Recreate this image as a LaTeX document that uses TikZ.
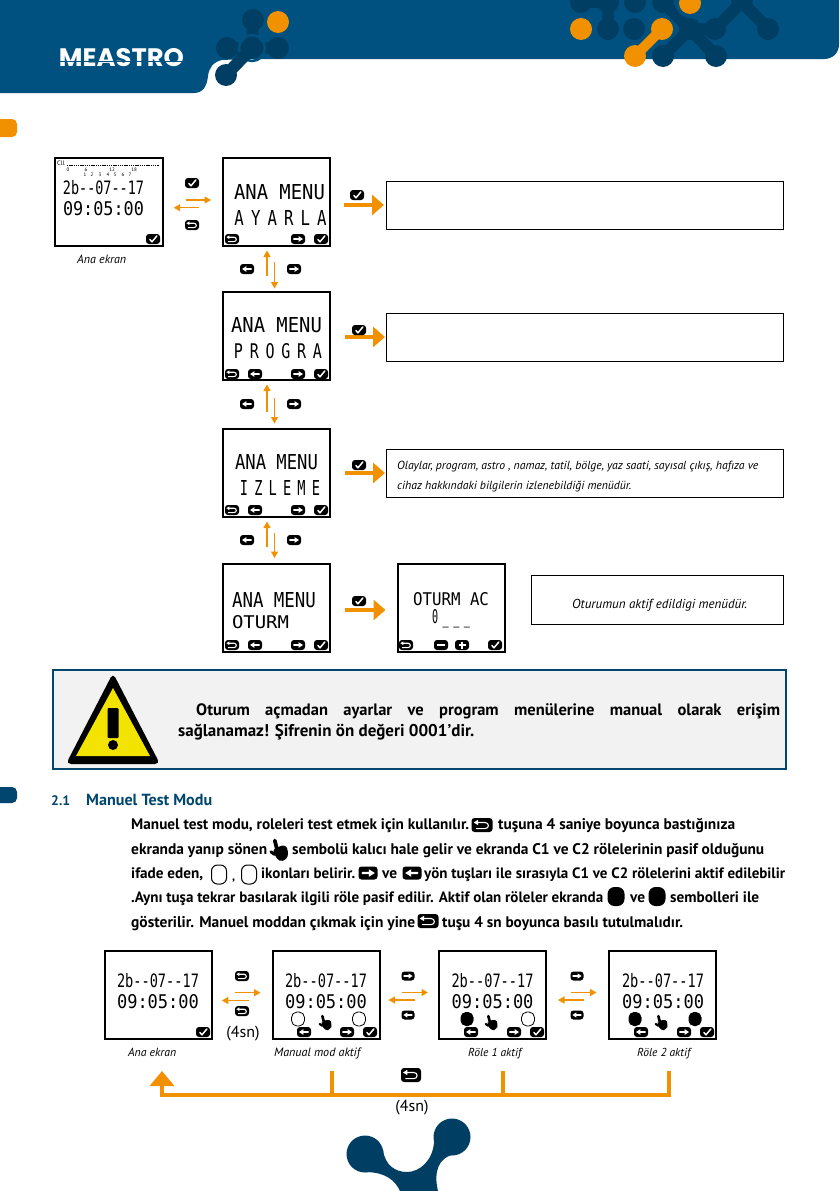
\documentclass[tikz,border=0pt]{standalone}
\usepackage{fontspec}
\usetikzlibrary{arrows.meta,calc}
\setmainfont{PT Sans}
\newfontfamily\lcdf{DejaVu Sans Mono}
\newfontfamily\lcdw[LetterSpace=45]{DejaVu Sans Mono}
\newfontfamily\logof{Poppins}
\definecolor{band}{HTML}{00517F}
\definecolor{deep}{HTML}{003F63}
\definecolor{org}{HTML}{F29100}
\definecolor{head}{HTML}{00466E}
\definecolor{warny}{HTML}{F2E400}
\newcounter{tn}
\newcommand\tx[5]{\stepcounter{tn}\node[anchor=base west,inner sep=0pt,name=t\arabic{tn},text=black] at (#2,#3) {\resizebox{#4pt}{!}{#1#5}};}
\newcommand\bd{\bfseries\fontsize{14}{14}\selectfont}
\newcommand\itc{\itshape\fontsize{11}{11}\selectfont}
\newcommand\lcd[5]{\stepcounter{tn}\node[inner sep=0pt,name=t\arabic{tn}] at (#1,#2) {\resizebox{#3pt}{#4pt}{\lcdf #5}};}
\newcommand\lcdx[5]{\stepcounter{tn}\node[inner sep=0pt,name=t\arabic{tn}] at (#1,#2) {\resizebox{#3pt}{#4pt}{\lcdw #5}};}
\newcommand\glyphcheck{\draw[white,line width=1.5pt,line cap=round,line join=round] (-3.2,0.4) -- (-1,2.8) -- (3.8,-3);}
\newcommand\glyphright{\fill[white] (-4.6,-0.9) -- (0.6,-0.9) -- (0.6,-2.9) -- (5,0) -- (0.6,2.9) -- (0.6,0.9) -- (-4.6,0.9) -- cycle;}
\newcommand\glyphleft{\fill[white] (4.6,-0.9) -- (-0.6,-0.9) -- (-0.6,-2.9) -- (-5,0) -- (-0.6,2.9) -- (-0.6,0.9) -- (4.6,0.9) -- cycle;}
\newcommand\glyphback{\draw[white,line width=1.1pt] (-3,-1.8) -- (2,-1.8) .. controls (5,-1.8) and (5,2.6) .. (2,2.6) -- (-4,2.6);\fill[white] (-2.6,-3.7) -- (-5.6,-1.8) -- (-2.6,0.1) -- cycle;}
\newcommand\glyphminus{\fill[white] (-4,-1) rectangle (4,1);}
\newcommand\glyphplus{\fill[white] (-3.5,-1) rectangle (3.5,1);\fill[white] (-1,-3.5) rectangle (1,3.5);}
\newcommand\btn[5]{\begin{scope}[shift={(#1,#2)},xscale=#3/14,yscale=#4/10]\fill[black,rounded corners=3pt] (-7,-5) rectangle (7,5);\csname glyph#5\endcsname\end{scope}}
\newcommand\hand[3]{\begin{scope}[shift={(#1,#2)},scale=#3,rotate=14]\fill[black,rounded corners=3.5pt] (-6.5,-2) -- (6.5,-3) -- (7.5,5) -- (4,12) -- (-4,12) -- (-7,3) -- cycle;\draw[black,line width=#3*3.8pt,line cap=round] (-3,-9.5) -- (-3,0);\draw[black,line width=#3*3pt,line cap=round] (-6.5,4) -- (-9.5,0.5);\end{scope}}
\newcommand\relo[2]{\draw[black,line width=0.8pt,rounded corners=5.5pt] (#1-6.5,#2-7) rectangle (#1+6.5,#2+7);}
\newcommand\relf[2]{\fill[black,rounded corners=5.5pt] (#1-6.5,#2-7) rectangle (#1+6.5,#2+7);}
\newcommand\blob[3][deep]{\fill[#1] (#2,#3) circle (11);}
\tikzset{
 screen/.style={draw=black,line width=2pt,rectangle,minimum width=107pt,minimum height=88pt,inner sep=0pt,outer sep=0pt},
 infobox/.style={draw=black,line width=0.8pt,rectangle,fill=white,inner sep=0pt,outer sep=0pt},
 thin arrow/.style={draw=org,line width=1.2pt,-{Triangle[length=6.5pt,width=7pt]}},
 big arrow/.style={draw=org,line width=3.2pt,-{Triangle[length=12pt,width=20pt]}},
 bus/.style={draw=org,line width=3.5pt},
 link/.style={draw=deep,line width=12pt,line cap=round,line join=round},
 olink/.style={draw=org,line width=10pt,line cap=round},
}
\begin{document}
\begin{tikzpicture}[x=1pt,y=-1pt]
\useasboundingbox (0,0) rectangle (839,1191);
\fill[white] (0,0) rectangle (839,1191);
% header band
\fill[band] (0,0) -- (839,0) -- (839,44) .. controls (839,53) and (833,59) .. (824,59) -- (245,59) -- (222,60) .. controls (213,62) and (209,68) .. (208,76) .. controls (207,86) and (203,93) .. (194,93) -- (0,93) -- cycle;
% left blob group
\draw[link] (253,20) -- (252,48); \draw[link] (227,48) -- (278,48);
\blob{253}{20}\blob{227}{48}\blob{278}{48}
\draw[band,line width=2.5pt] (252,48) circle (13);
\blob{252}{48}
\draw[white,line width=16pt,line cap=round] (232,69) -- (226,75);
\draw[link] (252,48) -- (226,75);
\blob{226}{75}
\blob[org]{278}{22}
% right blob group
\blob{581}{2}\blob{608}{2}\blob{635}{2}\blob{663}{2}\blob{608}{29}\blob{634}{29}
\draw[link] (581,2) -- (608,2); \draw[link] (608,2) -- (608,29);
\draw[link] (663,56) -- (690,29) -- (716,56); \draw[link] (690,29) -- (715,29) -- (742,2) -- (768,29);
\draw[link] (663,2) -- (690,29);
\blob{690}{29}\blob{663}{56}\blob{716}{56}\blob{715}{29}\blob{742}{0}\blob{768}{29}
\draw[band,line width=2.5pt] (690,3) circle (13.5);
\draw[band,line width=15pt,line cap=round] (662,29) -- (635,56);
\blob[org]{581}{29}
\draw[olink] (662,29) -- (635,56);
\blob[org]{662}{29}\blob[org]{635}{56}\blob[org]{690}{3}
% logo
\node[inner sep=0pt,text=white,name=logo] at (121.5,58) {\resizebox{125pt}{18pt}{\logof\bfseries MEASTRO}};
\fill[band] (59,61) rectangle (184,61.9);
% tabs
\fill[org,rounded corners=5pt] (-10,119) rectangle (17,137);
\fill[head,rounded corners=5pt] (-10,787) rectangle (17,803);
% screens
\node[screen,minimum width=108pt] (s1) at (108.7,201.5) {};
\node[screen] (s2) at (276.5,201.5) {};
\node[screen] (s3) at (276.5,335.5) {};
\node[screen] (s4) at (276.5,472.5) {};
\node[screen] (s5) at (276.5,608) {};
\node[screen] (s6) at (451,608) {};
\node[screen] (s7) at (158.3,994.5) {};
\node[screen] (s8) at (326,994.5) {};
\node[screen] (s9) at (492.5,994.5) {};
\node[screen] (s10) at (662.5,994.5) {};
% info boxes
\node[infobox,minimum width=397pt,minimum height=48pt] (box1) at (584.5,205) {};
\node[infobox,minimum width=397pt,minimum height=48pt] (box2) at (584.5,337) {};
\node[infobox,minimum width=397pt,minimum height=48pt] (box3) at (584.5,473) {};
\node[infobox,minimum width=252pt,minimum height=49pt] (box4) at (657,599.5) {};
% screen 1
\stepcounter{tn}\node[inner sep=0pt,name=t\arabic{tn}] at (61,163) {\fontsize{6.5}{6.5}\selectfont Cll};
\draw[black,line width=0.5pt,dash pattern=on 1.4pt off 0.8pt] (67,165.5) -- (159,165.5);
\foreach \px/\lab in {68/0,86/6,112/12,134/18}{\stepcounter{tn}\node[inner sep=0pt,name=t\arabic{tn}] at (\px,170) {\fontsize{5}{5}\selectfont\lab};}
\foreach \px/\lab in {85/1,92/2,100/3,108/4,115/5,123/6,130/7}{\stepcounter{tn}\node[inner sep=0pt,name=t\arabic{tn}] at (\px,175) {\fontsize{5}{5}\selectfont\lab};}
\lcd{103.5}{188}{81}{14}{2b--07--17}
\lcd{103.5}{209}{81}{14}{09:05:00}
\btn{153}{239}{14}{10}{check}
% menu screens
\lcd{279.5}{192}{91}{15}{ANA MENU}
\lcdx{280.5}{218}{92}{15}{AYARLA}
\btn{232}{239}{14}{10}{back}\btn{298}{239}{14}{10}{right}\btn{321}{239}{14}{10}{check}
\lcd{276.5}{325}{91}{15}{ANA MENU}
\lcdx{278}{351}{88}{15}{PROGRA}
\btn{232}{374}{14}{10}{back}\btn{255}{374}{14}{10}{left}\btn{298}{374}{14}{10}{right}\btn{321}{374}{14}{10}{check}
\lcd{276.5}{462}{83}{15}{ANA MENU}
\lcdx{280}{488}{80}{15}{IZLEME}
\btn{232}{510}{14}{10}{back}\btn{255}{510}{14}{10}{left}\btn{298}{510}{14}{10}{right}\btn{321}{510}{14}{10}{check}
\lcd{274}{600}{84}{15}{ANA MENU}
\lcd{260.5}{622}{57}{13}{OTURM}
\btn{232}{645}{14}{10}{back}\btn{255}{645}{14}{10}{left}\btn{298}{645}{14}{10}{right}\btn{321}{645}{14}{10}{check}
\lcd{451}{599}{76}{13}{OTURM AC}
\lcdx{451}{619}{38}{14}{0\_\_\_}
\btn{406}{645}{14}{10}{back}\btn{441}{645}{14}{10}{minus}\btn{462}{645}{14}{10}{plus}\btn{495}{645}{14}{10}{check}
% bottom screens
\foreach \cx in {158,326,492.5,663}{\lcd{\cx}{981}{82}{14}{2b--07--17}\lcd{\cx}{1002}{82}{14}{09:05:00}}
\btn{203}{1032}{14}{10}{check}
\btn{304}{1032}{14}{10}{left}\btn{347}{1032}{14}{10}{right}\btn{370}{1032}{14}{10}{check}
\relo{298}{1019}\hand{326}{1022}{0.7}\relo{359}{1019}
\btn{471}{1032}{14}{10}{left}\btn{514}{1032}{14}{10}{right}\btn{537}{1032}{14}{10}{check}
\relf{467}{1019}\hand{492}{1022}{0.7}\relo{528}{1019}
\btn{641}{1032}{14}{10}{left}\btn{684}{1032}{14}{10}{right}\btn{707}{1032}{14}{10}{check}
\relf{635}{1019}\hand{662}{1022}{0.7}\relf{695}{1019}
% connectors top
\draw[thin arrow] ([xshift=23,yshift=1.5]s1.east) -- ([xshift=-12,yshift=1.5]s2.west);
\draw[thin arrow] ([xshift=-24,yshift=-6.2]s2.west) -- ([xshift=11,yshift=-6.2]s1.east);
\btn{192}{183}{14}{10}{check}\btn{192}{225}{14}{10}{back}
\draw[thin arrow] ([xshift=-9.5,yshift=16]s3.north) -- ([xshift=-9.5,yshift=-5]s2.south);
\draw[thin arrow] ([xshift=-2,yshift=-16]s2.south) -- ([xshift=-2,yshift=3]s3.north);
\btn{247}{269}{14}{10}{left}\btn{294}{269}{14}{10}{right}
\draw[thin arrow] ([xshift=-9.5,yshift=17]s4.north) -- ([xshift=-9.5,yshift=-5]s3.south);
\draw[thin arrow] ([xshift=-2,yshift=-18]s3.south) -- ([xshift=-2,yshift=5]s4.north);
\btn{247}{404}{14}{10}{left}\btn{294}{404}{14}{10}{right}
\draw[thin arrow] ([xshift=-9.5,yshift=17]s5.north) -- ([xshift=-9.5,yshift=-5]s4.south);
\draw[thin arrow] ([xshift=-2,yshift=-16]s4.south) -- ([xshift=-2,yshift=6]s5.north);
\btn{247}{540}{14}{10}{left}\btn{294}{540}{14}{10}{right}
\draw[big arrow] ([xshift=14]s2.east |- box1.west) -- ([xshift=-2]box1.west);
\btn{357}{195}{14}{10}{check}
\draw[big arrow] ([xshift=15]s3.east |- box2.west) -- ([xshift=-1]box2.west);
\btn{359}{330}{14}{10}{check}
\draw[big arrow] ([xshift=15]s4.east |- box3.west) -- ([xshift=-1]box3.west);
\btn{359}{465}{14}{10}{check}
\draw[big arrow] ([xshift=15,yshift=-2]s5.east) -- ([xshift=-12,yshift=-2]s6.west);
\btn{359}{601}{14}{10}{check}
% connectors bottom
\draw[thin arrow] ([xshift=23,yshift=1.8]s7.east) -- ([xshift=-12,yshift=1.8]s8.west);
\draw[thin arrow] ([xshift=-24,yshift=-6]s8.west) -- ([xshift=10,yshift=-6]s7.east);
\btn{242}{976}{14}{10}{back}\btn{242}{1011}{14}{10}{back}
\draw[thin arrow] ([xshift=22,yshift=2]s8.east) -- ([xshift=-11,yshift=2]s9.west);
\draw[thin arrow] ([xshift=-24,yshift=-5.5]s9.west) -- ([xshift=9,yshift=-5.5]s8.east);
\btn{408}{976}{13}{9}{right}\btn{408}{1015}{13}{9}{left}
\draw[thin arrow] ([xshift=25,yshift=2]s9.east) -- ([xshift=-12.5,yshift=2]s10.west);
\draw[thin arrow] ([xshift=-25,yshift=-5.5]s10.west) -- ([xshift=12,yshift=-5.5]s9.east);
\btn{577}{976}{13}{9}{right}\btn{577}{1015}{13}{9}{left}
\coordinate (t8) at (332,1071);\coordinate (c8) at (332,1095);
\coordinate (t9) at (503,1071);\coordinate (c9) at (503,1095);
\coordinate (t10) at (669,1071);\coordinate (c10) at (669,1095);
\coordinate (ca) at (162,1095);\coordinate (ta) at (162,1071);
\draw[bus] (t8) -- (c8); \draw[bus] (t9) -- (c9);
\draw[bus,-{Triangle[length=15pt,width=24pt]}] (t10) -- (c10) -- (ca) -- (ta);
\btn{411}{1075}{20}{14}{back}
% captions
\tx{\itc}{77}{263}{49}{Ana ekran}
\tx{\itc}{128}{1056}{48}{Ana ekran}
\tx{\itc}{274}{1056}{86}{Manual mod aktif}
\tx{\itc}{468}{1056}{53}{Röle 1 aktif}
\tx{\itc}{637}{1056}{53}{Röle 2 aktif}
\stepcounter{tn}\node[inner sep=0pt,name=t\arabic{tn}] at (243,1034) {\fontsize{16}{16}\selectfont (4sn)};
\stepcounter{tn}\node[inner sep=0pt,name=t\arabic{tn}] at (412,1108) {\fontsize{16}{16}\selectfont (4sn)};
% box texts
\tx{\itc}{397}{469}{361}{Olaylar, program, astro , namaz, tatil, bölge, yaz saati, sayısal çıkış, hafıza ve}
\tx{\itc}{397}{489}{234}{cihaz hakkındaki bilgilerin izlenebildiği menüdür.}
\tx{\itc}{572}{608}{175}{Oturumun aktif edildigi menüdür.}
% warning
\node[draw=head,line width=2pt,fill=black!5,rectangle,minimum width=733pt,minimum height=99pt,inner sep=0pt,outer sep=0pt] (warn) at (419,719.5) {};
\fill[black,rounded corners=5pt] (113,673) -- (160,764) -- (66,764) -- cycle;
\fill[warny] (113,688) -- (150,756) -- (76,756) -- cycle;
\fill[black,rounded corners=1pt] (107.5,708) rectangle (118.5,738);
\fill[black] (113,745) circle (5);
\stepcounter{tn}\node[anchor=base west,inner sep=0pt,name=t\arabic{tn}] at (196,715) {\makebox[584pt][s]{\bfseries\fontsize{16.5}{16.5}\selectfont Oturum açmadan ayarlar ve program menülerine manual olarak erişim}};
\tx{\bd}{178}{736}{296}{sağlanamaz! Şifrenin ön değeri 0001’dir.}
% section heading
\stepcounter{tn}\node[anchor=base west,inner sep=0pt,text=head,name=t\arabic{tn}] at (51,805) {\resizebox{19pt}{!}{\bd 2.1}};
\stepcounter{tn}\node[anchor=base west,inner sep=0pt,text=head,name=t\arabic{tn}] at (86,805) {\resizebox{126pt}{!}{\bd Manuel Test Modu}};
% body
\tx{\bd}{131}{829}{338}{Manuel test modu, roleleri test etmek için kullanılır.}
\btn{482}{825}{21}{14}{back}
\tx{\bd}{498}{829}{237}{tuşuna 4 saniye boyunca bastığınıza}
\tx{\bd}{131}{854}{136}{ekranda yanıp sönen}
\hand{280}{849}{1}
\tx{\bd}{292}{854}{472}{sembolü kalıcı hale gelir ve ekranda C1 ve C2 rölelerinin pasif olduğunu}
\tx{\bd}{131}{878}{72}{ifade eden,}
\draw[black,line width=1pt,rounded corners=6pt] (211.5,865) rectangle (226.5,884);
\tx{\bd}{232}{880}{3}{,}
\draw[black,line width=1pt,rounded corners=6pt] (241.5,865) rectangle (256.5,884);
\tx{\bd}{261}{878}{94}{ikonları belirir.}
\btn{368}{873}{19}{13}{right}
\tx{\bd}{382}{878}{15}{ve}
\btn{412}{873}{19}{13}{left}
\tx{\bd}{424}{878}{361}{yön tuşları ile sırasıyla C1 ve C2 rölelerini aktif edilebilir}
\tx{\bd}{131}{902}{472}{.Aynı tuşa tekrar basılarak ilgili röle pasif edilir. Aktif olan röleler ekranda}
\fill[black,rounded corners=7pt] (607.5,887) rectangle (624.5,906);
\tx{\bd}{630}{902}{15}{ve}
\fill[black,rounded corners=7pt] (648.5,887) rectangle (665.5,906);
\tx{\bd}{670}{902}{89}{sembolleri ile}
\tx{\bd}{131}{927}{284}{gösterilir. Manuel moddan çıkmak için yine}
\btn{428}{921}{21}{14}{back}
\tx{\bd}{442}{927}{241}{tuşu 4 sn boyunca basılı tutulmalıdır.}
% bottom blob
\fill[deep] (365,1154) circle (18.5);\fill[deep] (452,1137) circle (18.5);
\fill[deep] (383,1150) .. controls (385,1165) and (395,1172) .. (407,1172) .. controls (420,1172) and (433,1160) .. (434,1142) -- (452,1155) .. controls (440,1158) and (433,1170) .. (438,1191) -- (400,1191) .. controls (395,1180) and (385,1172) .. (365,1172) -- cycle;
\end{tikzpicture}
\end{document}
